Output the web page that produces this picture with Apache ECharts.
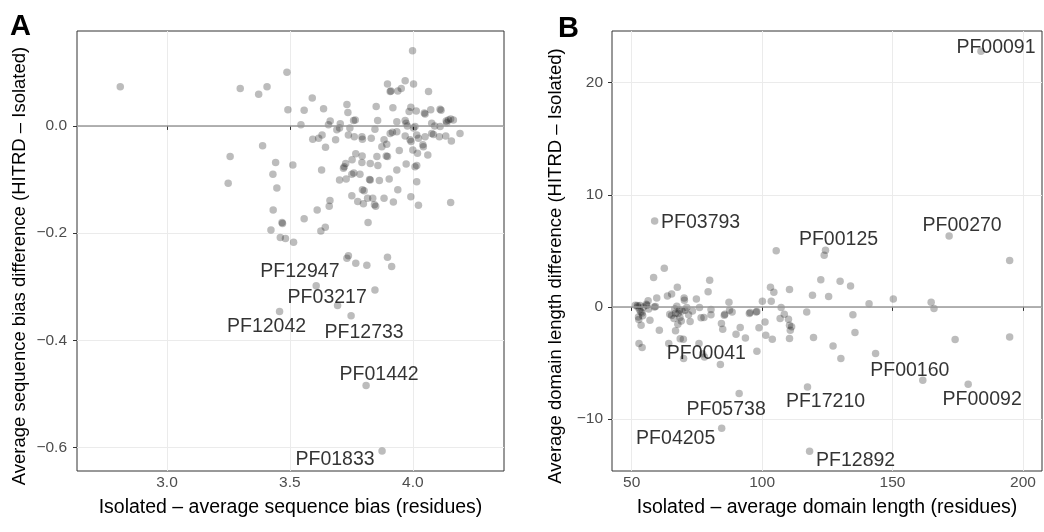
<!DOCTYPE html>
<html>
<head>
<meta charset="utf-8">
<script src="https://cdn.jsdelivr.net/npm/echarts@6/dist/echarts.min.js"></script>
<style>
html,body{margin:0;padding:0;background:#fff;}
#chart{width:1044px;height:532px;}
</style>
</head>
<body>
<div id="chart"></div>
<script>
// ---------- DATA ----------
// Panel A: [isolated - average sequence bias, sequence bias difference]
var aPoints = [
[2.81,0.073],[3.298,0.070],[3.373,0.059],[3.407,0.073],[3.488,0.100],[3.591,0.052],[3.492,0.030],[3.558,0.029],[3.637,0.032],[3.545,0.002],
[3.389,-0.037],[3.257,-0.057],[3.249,-0.107],[3.442,-0.068],[3.431,-0.090],[3.512,-0.073],[3.447,-0.116],[3.432,-0.157],[3.468,-0.180],[3.470,-0.182],
[3.423,-0.194],[3.461,-0.208],[3.482,-0.210],[3.515,-0.217],[3.558,-0.173],[3.611,-0.157],[3.626,-0.196],[3.644,-0.189],[3.660,-0.150],[3.663,-0.139],
[3.629,-0.082],[3.593,-0.025],[3.617,-0.023],[3.631,-0.017],[3.645,-0.040],[3.686,-0.026],[3.702,-0.101],[3.718,-0.079],[3.721,-0.076],[3.727,-0.070],
[3.729,-0.099],[3.752,-0.130],[3.732,0.040],[3.736,0.025],[3.759,0.010],[3.766,0.011],[3.664,0.009],[3.657,0.002],[3.702,-0.004],[3.705,0.004],
[3.744,-0.004],[3.738,-0.017],[3.762,-0.020],[3.793,-0.020],[3.795,-0.025],[3.831,-0.023],[3.768,-0.052],[3.753,-0.063],[3.794,-0.056],[3.793,-0.068],
[3.760,-0.088],[3.752,-0.090],[3.785,-0.090],[3.827,-0.070],[3.827,-0.101],[3.824,-0.100],[3.795,-0.119],[3.802,-0.121],[3.776,-0.141],[3.799,-0.145],
[3.816,-0.135],[3.837,-0.135],[3.844,-0.147],[3.849,-0.150],[3.818,-0.180],[3.864,-0.102],[3.858,-0.074],[3.854,-0.057],[3.883,-0.135],[3.904,-0.099],
[3.921,-0.142],[3.939,-0.119],[3.935,-0.082],[3.945,-0.046],[3.892,-0.056],[3.897,-0.057],[3.874,-0.039],[3.883,-0.026],[3.894,-0.034],[3.908,-0.014],
[3.917,-0.012],[3.935,-0.011],[3.846,-0.006],[3.857,0.010],[3.851,0.036],[3.919,0.034],[3.897,0.078],[3.908,0.064],[3.911,0.065],[3.939,0.065],
[3.953,0.070],[3.969,0.084],[4.003,0.078],[3.999,0.140],[4.064,0.064],[3.935,0.008],[3.969,0.010],[3.973,0.005],[3.978,0.000],[3.985,0.027],
[3.992,0.035],[4.014,0.028],[3.969,-0.019],[3.989,-0.026],[3.993,-0.029],[4.003,-0.004],[4.009,-0.001],[4.000,-0.045],[4.019,-0.051],[4.009,-0.076],
[4.016,-0.074],[3.973,-0.071],[3.992,-0.132],[4.023,-0.148],[4.016,-0.104],[4.016,-0.017],[4.023,-0.023],[4.050,-0.020],[4.041,-0.035],[4.043,-0.039],
[4.061,-0.054],[4.047,0.024],[4.050,0.022],[4.073,0.030],[4.111,0.031],[4.115,0.029],[4.077,0.005],[4.089,0.000],[4.077,-0.014],[4.084,-0.016],
[4.108,-0.020],[4.136,0.009],[4.145,0.011],[4.154,0.013],[4.165,0.011],[4.138,0.006],[4.134,-0.019],[4.157,-0.028],[4.192,-0.014],[4.154,-0.143],
[4.111,-0.001],[3.691,-0.007],[3.738,-0.242],[3.768,-0.256],[3.813,-0.260],[3.897,-0.245],[3.914,-0.262],[3.846,-0.306],[3.694,-0.335]
];
var aLabelNames = ['PF12947','PF03217','PF12042','PF12733','PF01442','PF01833'];
var aLabelPoints = [[3.732,-0.247],[3.607,-0.298],[3.458,-0.346],[3.749,-0.354],[3.810,-0.484],[3.875,-0.606]];
var aXTicks = [3.0,3.5,4.0];
var aYTicks = [-0.6,-0.4,-0.2,0.0];
var aXTitle = 'Isolated \u2013 average sequence bias (residues)';
var aYTitle = 'Average sequence bias difference (HITRD \u2013 Isolated)';

// Panel B: [isolated - average domain length, domain length difference]
var bPoints = [
[105.4,5.00],[194.9,4.13],[123.8,4.61],[62.5,3.45],[58.4,2.62],[79.9,2.38],[122.5,2.41],[129.9,2.29],[133.9,1.87],[67.5,1.75],
[103.2,1.75],[104.5,1.31],[110.5,1.55],[79.3,1.34],[65.3,1.16],[63.7,0.98],[59.6,0.80],[70.1,0.80],[74.8,0.71],[119.3,1.04],
[125.5,0.92],[150.3,0.71],[164.8,0.42],[165.9,-0.15],[141.0,0.27],[100.1,0.51],[103.5,0.51],[87.3,0.42],[107.3,-0.06],[117.1,-0.45],
[134.8,-0.71],[98.0,-0.42],[95.4,-0.51],[88.5,-0.45],[85.7,-0.65],[80.4,-0.24],[80.4,-0.71],[77.7,-0.95],[76.0,-0.06],[73.3,-0.36],
[72.4,-1.31],[70.2,0.59],[71.1,-0.06],[69.3,-0.36],[68.3,-0.30],[67.3,0.06],[66.8,-0.56],[67.7,-1.55],[66.8,-2.14],[68.6,-2.85],
[69.8,-2.88],[69.9,-4.61],[64.2,-3.27],[64.6,-0.65],[65.3,-0.77],[66.2,-1.04],[60.6,-2.08],[59.1,0.03],[57.0,-1.19],[56.3,0.54],
[55.6,0.24],[55.8,0.15],[54.5,0.0],[53.5,-0.45],[54.2,-0.80],[52.7,-1.13],[53.6,-1.64],[52.8,-3.27],[54.0,-3.63],[52.2,0.12],
[51.4,0.15],[53.2,0.12],[75.8,-3.27],[77.9,-4.46],[77.2,-4.19],[84.4,-1.49],[84.9,-1.99],[90.0,-2.44],[91.6,-1.84],[93.6,-2.77],
[98.8,-1.87],[101.1,-1.34],[101.4,-2.53],[103.9,-2.88],[98.0,-3.95],[106.9,-1.04],[108.5,-0.65],[110.1,-1.10],[110.5,-1.64],[111.3,-1.78],
[110.8,-2.08],[110.5,-2.82],[119.7,-2.74],[127.2,-3.48],[130.2,-4.61],[135.6,-2.29],[143.5,-4.16],[174.0,-2.91],[194.9,-2.68],
[52.3,0.0],[53.0,-0.25],[54.0,-0.55],[52.6,-0.9],[56.5,-0.2],[66.5,-0.2],[67.8,-0.6],[68.5,-0.95],[69.0,-1.25],[70.5,-0.3],
[71.8,-0.7],[58.7,0.0],[76.6,-0.98],[95.1,-0.59],[97.7,-0.45],[85.5,-0.74],[87.5,-0.3]
];
var bLabelNames = ['PF00091','PF03793','PF00270','PF00125','PF00041','PF00160','PF00092','PF17210','PF05738','PF04205','PF12892'];
var bLabelPoints = [[183.9,22.81],[58.8,7.67],[171.7,6.33],[124.3,5.06],[84.0,-5.14],[161.6,-6.54],[179.0,-6.90],[117.4,-7.14],[91.2,-7.73],[84.5,-10.82],[118.2,-12.88]];
var bXTicks = [50,100,150,200];
var bYTicks = [-10,0,10,20];
var bXTitle = 'Isolated \u2013 average domain length (residues)';
var bYTitle = 'Average domain length difference (HITRD \u2013 Isolated)';

// ---------- STYLE / LAYOUT ----------
var aLabelOffsets = [[-47,13],[11,12],[-13,15],[13,17],[13,-11],[-47,9]];
var bLabelOffsets = [[15,-4],[46,2],[13,-10],[13,-11],[-14,-11],[-13,-10],[14,15],[18,15],[-13,16],[-46,10],[46,9]];

var FONT = 'Liberation Sans, Arial, Helvetica, sans-serif';
var POINT = {color:'rgba(0,0,0,0.33)'};
var minus = function(s){ return String(s).replace('-', '\u2212'); };

function labelData(points, names){
  return points.map(function(p,i){ return {value:p, name:names[i]}; });
}
function labelLayoutFor(offsets){
  return function(params){
    var o = offsets[params.dataIndex] || [0,0];
    return {dx:o[0], dy:o[1], hideOverlap:false, moveOverlap:null};
  };
}

function makeAxis(gi, min, max, ticks, fmt, name, gap, margin){
  return {
    gridIndex: gi, type:'value', min:min, max:max,
    name: name, nameLocation:'middle', nameGap: gap,
    nameTextStyle:{fontSize:19.5, color:'#000', fontFamily:FONT},
    axisLine:{show:false},
    axisTick:{show:true, length:4, customValues:ticks, lineStyle:{color:'#333', width:1}},
    axisLabel:{customValues:ticks, formatter:fmt, color:'#4D4D4D', fontSize:15.5, fontFamily:FONT, margin:margin},
    splitLine:{show:true, lineStyle:{color:'#EBEBEB', width:1}},
    minorSplitLine:{show:false}
  };
}

var zeroLine = {
  silent:true, symbol:['none','none'], label:{show:false},
  lineStyle:{color:'#999999', width:1.5, type:'solid'},
  data:[{yAxis:0}]
};

var labelStyle = {show:true, position:'inside', formatter:'{b}', color:'#000', fontSize:19.5, fontFamily:FONT, textBorderWidth:0};

var option = {
  animation:false,
  textStyle:{fontFamily:FONT},
  grid:[
    {left:77, top:31, width:427, height:440, show:true, borderColor:'#333', borderWidth:1, backgroundColor:'rgba(0,0,0,0)'},
    {left:612, top:31, width:430, height:440, show:true, borderColor:'#333', borderWidth:1, backgroundColor:'rgba(0,0,0,0)'}
  ],
  xAxis:[
    makeAxis(0, 2.634, 4.371, aXTicks, function(v){return minus(v.toFixed(1));}, aXTitle, 27, 4),
    makeAxis(1, 42.45, 207.3, bXTicks, function(v){return minus(Math.round(v));}, bXTitle, 27, 4)
  ],
  yAxis:[
    makeAxis(0, -0.6435, 0.177, aYTicks, function(v){return minus(v.toFixed(1));}, '', 0, 10),
    makeAxis(1, -14.64, 24.61, bYTicks, function(v){return minus(Math.round(v));}, '', 0, 9)
  ],
  series:[
    {type:'scatter', xAxisIndex:0, yAxisIndex:0, data:aPoints, symbolSize:7.5, itemStyle:POINT, markLine:zeroLine, z:3},
    {type:'scatter', xAxisIndex:0, yAxisIndex:0, data:labelData(aLabelPoints, aLabelNames), symbolSize:7.5, itemStyle:POINT,
      label:labelStyle, labelLayout:labelLayoutFor(aLabelOffsets), z:4},
    {type:'scatter', xAxisIndex:1, yAxisIndex:1, data:bPoints, symbolSize:7.5, itemStyle:POINT, markLine:zeroLine, z:3},
    {type:'scatter', xAxisIndex:1, yAxisIndex:1, data:labelData(bLabelPoints, bLabelNames), symbolSize:7.5, itemStyle:POINT,
      label:labelStyle, labelLayout:labelLayoutFor(bLabelOffsets), z:4}
  ],
  graphic:[
    {type:'text', left:10, top:12, style:{text:'A', font:'bold 29px ' + FONT, fill:'#000'}},
    {type:'text', left:558, top:14, style:{text:'B', font:'bold 29px ' + FONT, fill:'#000'}},
    {type:'text', x:20, y:266, rotation:Math.PI/2, style:{text:aYTitle, font:'18.5px ' + FONT, fill:'#000', textAlign:'center', textVerticalAlign:'middle'}},
    {type:'text', x:556, y:266, rotation:Math.PI/2, style:{text:bYTitle, font:'18.5px ' + FONT, fill:'#000', textAlign:'center', textVerticalAlign:'middle'}}
  ]
};

var chart = echarts.init(document.getElementById('chart'), null, {renderer:'canvas'});
chart.setOption(option);
</script>
</body>
</html>
